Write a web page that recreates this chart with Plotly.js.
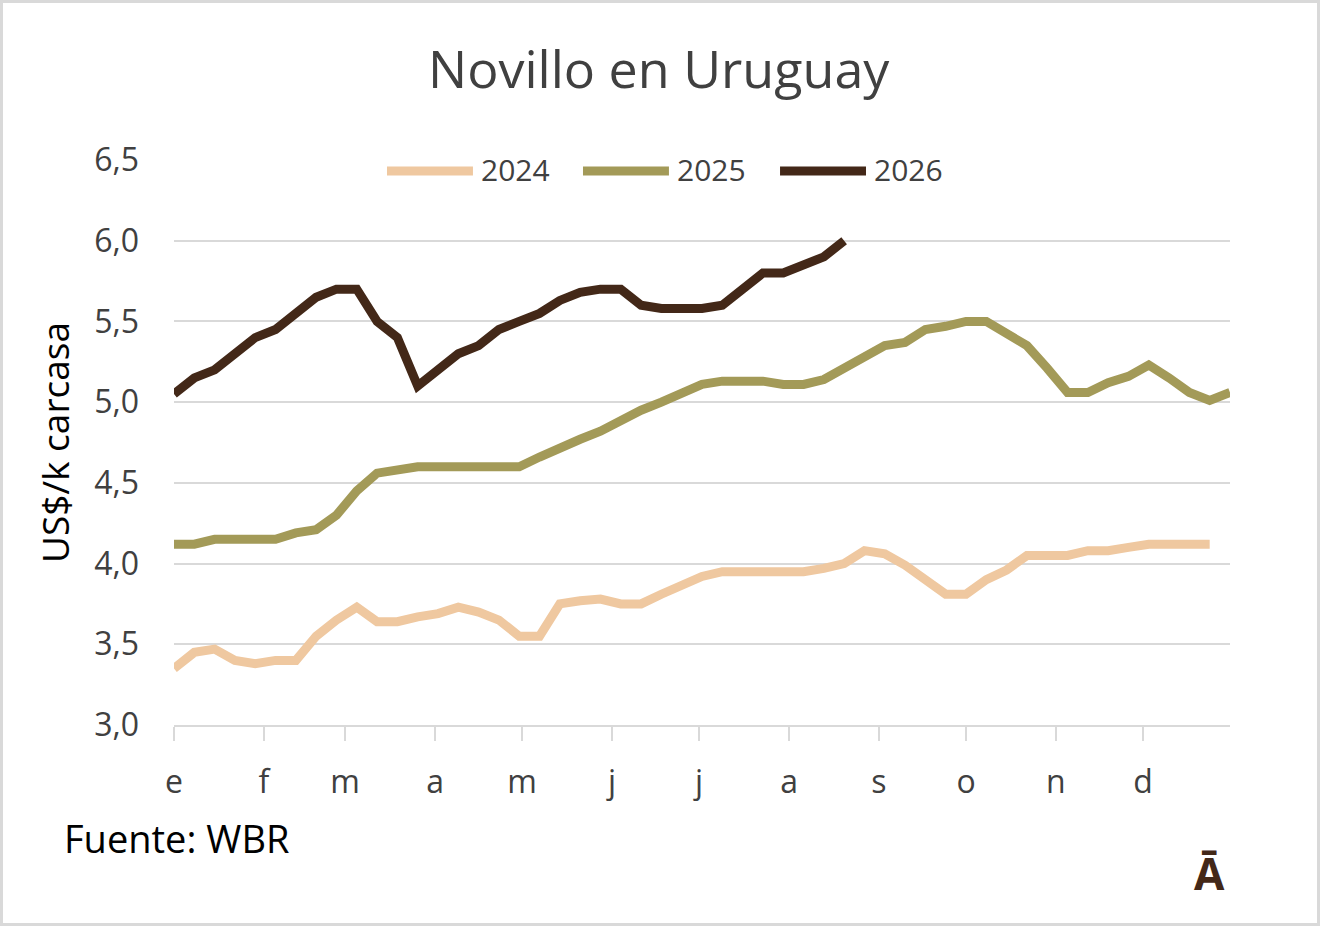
<!DOCTYPE html>
<html>
<head>
<meta charset="utf-8">
<script src="https://cdn.plot.ly/plotly-3.0.1.min.js"></script>
<style>
  html, body { margin: 0; padding: 0; background: #fff; }
  #wrap { position: relative; width: 1320px; height: 926px; }
  #chart { width: 1320px; height: 926px; }
  #frame { position: absolute; left: 0; top: 0; width: 1320px; height: 926px;
           box-sizing: border-box; border: 3px solid #d9d9d9; pointer-events: none; }
</style>
</head>
<body>
<div id="wrap">
  <div id="chart"></div>
  <div id="frame"></div>
</div>
<script>
// ─── Data (weekly, US$/k carcasa) ───────────────────────────
var months = ['e', 'f', 'm', 'a', 'm', 'j', 'j', 'a', 's', 'o', 'n', 'd'];
var monthStartDay = [0, 31, 59, 90, 120, 151, 181, 212, 243, 273, 304, 334];

var y2024 = [3.35, 3.45, 3.47, 3.40, 3.38, 3.40, 3.40, 3.55, 3.65, 3.73,
             3.64, 3.64, 3.67, 3.69, 3.73, 3.70, 3.65, 3.55, 3.55, 3.75,
             3.77, 3.78, 3.75, 3.75, 3.81, 3.86, 3.92, 3.95, 3.95, 3.95,
             3.95, 3.95, 3.97, 4.00, 4.08, 4.06, 3.99, 3.90, 3.81, 3.81,
             3.90, 3.96, 4.05, 4.05, 4.05, 4.08, 4.08, 4.10, 4.12, 4.12,
             4.12, 4.12];

var y2025 = [4.12, 4.12, 4.15, 4.15, 4.15, 4.15, 4.19, 4.21, 4.30, 4.45,
             4.56, 4.58, 4.60, 4.60, 4.60, 4.60, 4.60, 4.60, 4.66, 4.72,
             4.77, 4.82, 4.89, 4.95, 5.00, 5.06, 5.11, 5.13, 5.13, 5.13,
             5.11, 5.11, 5.14, 5.21, 5.29, 5.35, 5.37, 5.45, 5.47, 5.50,
             5.50, 5.42, 5.35, 5.21, 5.06, 5.06, 5.12, 5.16, 5.23, 5.15,
             5.06, 5.01, 5.06];

var y2026 = [5.05, 5.15, 5.20, 5.30, 5.40, 5.45, 5.55, 5.65, 5.70, 5.70,
             5.50, 5.40, 5.10, 5.20, 5.30, 5.35, 5.45, 5.50, 5.55, 5.63,
             5.68, 5.70, 5.70, 5.60, 5.58, 5.58, 5.58, 5.60, 5.70, 5.80,
             5.80, 5.85, 5.90, 6.00];

var seriesNames = ['2024', '2025', '2026'];
var seriesColors = ['#efc8a0', '#a39a58', '#432818'];

// week index -> day of year
function weekDays(arr) { return arr.map(function (_, i) { return i * 7; }); }

var FONT = '"Open Sans", "Liberation Sans", sans-serif';
var TXT = '#404040';

var traces = [y2024, y2025, y2026].map(function (ys, k) {
  return {
    type: 'scatter', mode: 'lines', name: seriesNames[k],
    x: weekDays(ys), y: ys,
    line: { color: seriesColors[k], width: 9 },
    hoverinfo: 'x+y+name', showlegend: false
  };
});

// ── legend drawn by hand (long line swatches like the original) ──
var legX = [0.2017, 0.3873, 0.5739];
var legY = 0.9805;
var shapes = [];
var annotations = [];
legX.forEach(function (x0, k) {
  shapes.push({ type: 'line', xref: 'paper', yref: 'paper',
    x0: x0, x1: x0 + 0.0814, y0: legY, y1: legY,
    line: { color: seriesColors[k], width: 9 } });
  annotations.push({ xref: 'paper', yref: 'paper', x: x0 + 0.087, y: legY + 0.002,
    xanchor: 'left', yanchor: 'middle', showarrow: false, text: seriesNames[k],
    font: { family: FONT, size: 30, color: TXT } });
});

annotations.push({ xref: 'paper', yref: 'paper', x: -0.1127, y: 0.501,
  textangle: -90, xanchor: 'center', yanchor: 'middle', showarrow: false,
  text: 'US$/k carcasa', font: { family: FONT, size: 37, color: '#000' } });

annotations.push({ xref: 'paper', yref: 'paper', x: -0.1060, y: -0.2,
  xanchor: 'left', yanchor: 'middle', showarrow: false,
  text: 'Fuente: WBR', font: { family: FONT, size: 38, color: '#000' } });

annotations.push({ xref: 'paper', yref: 'paper', x: 0.981, y: -0.262,
  xanchor: 'center', yanchor: 'middle', showarrow: false,
  text: '<b>Ā</b>', font: { family: FONT, size: 44, color: '#432818' } });

var layout = {
  width: 1320, height: 926,
  margin: { l: 174, r: 90, t: 160, b: 201 },
  paper_bgcolor: '#fff', plot_bgcolor: '#fff',
  separators: ',.',
  showlegend: false,
  title: {
    text: 'Novillo en Uruguay',
    x: 0.499, xref: 'container', xanchor: 'center',
    y: 1 - 70 / 926, yref: 'container', yanchor: 'middle',
    font: { family: FONT, size: 52, color: TXT }
  },
  xaxis: {
    range: [0, 364],
    tickmode: 'array', tickvals: monthStartDay, ticktext: months,
    ticks: 'outside', ticklen: 14, tickwidth: 2, tickcolor: '#d9d9d9',
    showgrid: false, zeroline: false,
    showline: true, linecolor: '#d9d9d9', linewidth: 2,
    ticklabelstandoff: 14,
    tickfont: { family: FONT, size: 32, color: TXT },
    fixedrange: true
  },
  yaxis: {
    range: [3, 6.5], dtick: 0.5, tick0: 3, tickformat: '.1f',
    showgrid: true, gridcolor: '#d9d9d9', gridwidth: 2,
    zeroline: false, showline: false, ticks: '',
    ticklabelstandoff: 34,
    tickfont: { family: FONT, size: 32, color: TXT },
    fixedrange: true
  },
  shapes: shapes,
  annotations: annotations
};

Plotly.newPlot('chart', traces, layout, { displayModeBar: false, staticPlot: true });
</script>
</body>
</html>
